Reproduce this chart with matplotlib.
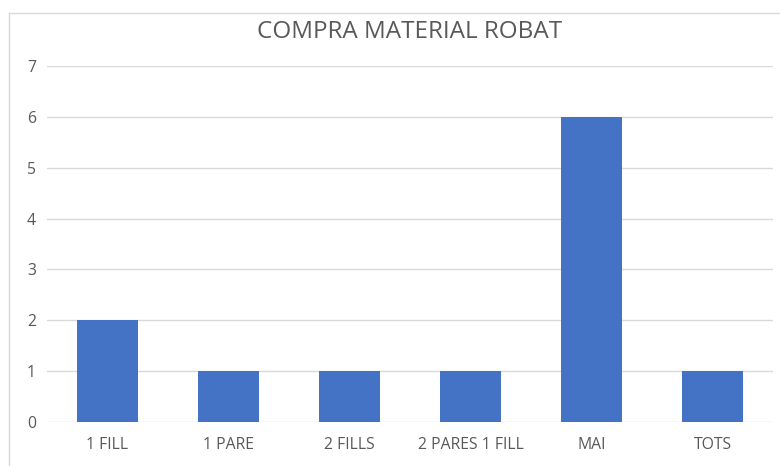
import matplotlib
matplotlib.use("Agg")
import matplotlib.pyplot as plt
from matplotlib.lines import Line2D

categories = ["1 FILL", "1 PARE", "2 FILLS", "2 PARES 1 FILL", "MAI", "TOTS"]
values = [2, 1, 1, 1, 6, 1]
yticks = [0, 1, 2, 3, 4, 5, 6, 7]
title = "COMPRA MATERIAL ROBAT"

plt.rcParams['font.family'] = ['Open Sans', 'DejaVu Sans']

W, H = 780, 466
fig = plt.figure(figsize=(W/100, H/100), dpi=100)
ax = fig.add_axes([47/W, 1-422/H, (773-47)/W, (422-66)/H])

x = list(range(len(categories)))
ax.bar(x, values, width=0.5, color="#4472C4", zorder=3)
ax.set_xlim(-0.5, len(categories)-0.5)
ax.set_ylim(0, 7)
ax.set_yticks(yticks)
ax.set_xticks(x)
ax.set_xticklabels(categories)
ax.grid(axis='y', color="#d9d9d9", linewidth=1, zorder=0)
for s in ax.spines.values():
    s.set_visible(False)
ax.tick_params(axis='both', length=0, colors="#595959", labelsize=11.3)
ax.tick_params(axis='x', pad=11)
ax.tick_params(axis='y', pad=8)

fig.text((47+773)/2/W, 1-32/H, title, ha='center', va='center', fontsize=17.5, color="#595959")

# chart border
fig.add_artist(Line2D([8.5/W, 8.5/W], [0, 1-12.5/H], color="#d9d9d9", linewidth=1, transform=fig.transFigure))
fig.add_artist(Line2D([8.5/W, 1], [1-12.5/H, 1-12.5/H], color="#d9d9d9", linewidth=1, transform=fig.transFigure))

fig.savefig("out.png", dpi=100, facecolor="white")
